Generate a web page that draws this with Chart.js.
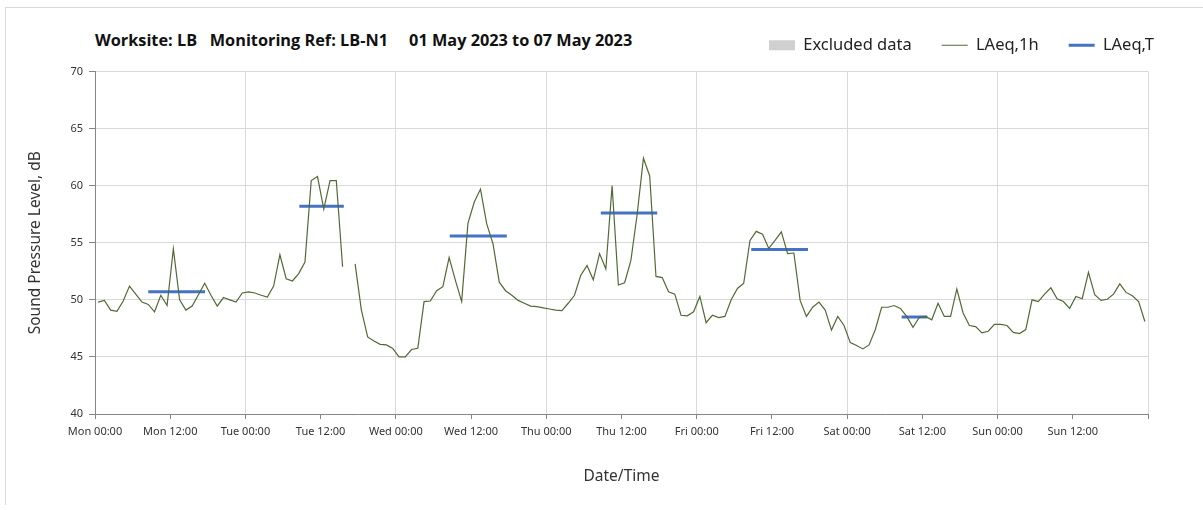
<!DOCTYPE html>
<html>
<head>
<meta charset="utf-8">
<script src="https://cdn.jsdelivr.net/npm/chart.js@4.4.0/dist/chart.umd.min.js"></script>
<style>
  body { margin: 0; background: #fff; }
  .wrap { position: relative; width: 1203px; height: 510px; }
  .frame { position: absolute; left: 5px; top: 7px; right: 0; bottom: 5px;
           border-left: 1px solid #d9d9d9; border-top: 1px solid #d9d9d9; }
  .title { position: absolute; left: 95px; top: 29px; font: bold 16.3px "Open Sans", sans-serif;
           color: #111; white-space: pre; }
  canvas { position: absolute; left: 0; top: 0; }
</style>
</head>
<body>
<div class="wrap">
  <div class="frame"></div>
  <div class="title">Worksite: LB   Monitoring Ref: LB-N1     01 May 2023 to 07 May 2023</div>
  <canvas id="myChart" width="1203" height="510"></canvas>
</div>
<script>
// hourly LAeq,1h per day (dB), 00:00 .. 23:00
const monLevels = [49.8, 49.95, 49.1, 49.0, 49.9, 51.2, 50.5, 49.8, 49.6, 48.95, 50.4, 49.5, 54.45, 50.0, 49.1, 49.45, 50.45, 51.45, 50.4, 49.45, 50.2, 50.0, 49.8, 50.6];
const tueLevels = [50.7, 50.6, 50.4, 50.25, 51.2, 53.95, 51.85, 51.65, 52.3, 53.3, 60.45, 60.8, 57.95, 60.45, 60.45, 52.9, null, 53.15, 49.1, 46.75, 46.4, 46.1, 46.05, 45.75];
const wedLevels = [45.0, 45.0, 45.65, 45.75, 49.85, 49.9, 50.8, 51.15, 53.7, 51.7, 49.85, 56.7, 58.55, 59.7, 56.65, 54.9, 51.55, 50.8, 50.4, 49.95, 49.7, 49.45, 49.4, 49.3];
const thuLevels = [49.2, 49.1, 49.05, 49.7, 50.4, 52.15, 53.0, 51.75, 54.05, 52.7, 60.0, 51.3, 51.5, 53.45, 57.5, 62.4, 60.85, 52.05, 51.95, 50.7, 50.5, 48.65, 48.6, 48.95];
const friLevels = [50.3, 48.0, 48.65, 48.45, 48.55, 50.0, 51.0, 51.45, 55.2, 56.0, 55.75, 54.5, 55.2, 55.95, 54.05, 54.1, 49.95, 48.55, 49.35, 49.8, 49.1, 47.35, 48.55, 47.75];
const satLevels = [46.25, 46.0, 45.7, 46.05, 47.4, 49.35, 49.35, 49.5, 49.25, 48.55, 47.6, 48.45, 48.55, 48.25, 49.7, 48.55, 48.55, 50.95, 48.85, 47.75, 47.65, 47.1, 47.25, 47.85];
const sunLevels = [47.85, 47.75, 47.15, 47.05, 47.4, 50.0, 49.85, 50.5, 51.05, 50.1, 49.85, 49.25, 50.3, 50.1, 52.4, 50.45, 49.95, 50.05, 50.5, 51.4, 50.65, 50.35, 49.85, 48.1];

// LAeq,T periods (hours from Mon 00:00)
const periodStart = [8.5, 32.6, 56.6, 80.7, 104.7, 128.7];
const periodEnd = [17.55, 39.7, 65.7, 89.7, 113.75, 132.8];
const periodLevel = [50.7, 58.2, 55.6, 57.6, 54.4, 48.5];

const dayNames = ['Mon', 'Tue', 'Wed', 'Thu', 'Fri', 'Sat', 'Sun'];
const yTicks = [40, 45, 50, 55, 60, 65, 70];

const hourly = [].concat(monLevels, tueLevels, wedLevels, thuLevels, friLevels, satLevels, sunLevels);
const hourlyPoints = hourly.map((v, i) => ({ x: i + 0.5, y: v }));

const lineGreen = '#4f6b35';
const tBlue = '#4472c4';

let datasets = [{
  label: 'LAeq,1h',
  data: hourlyPoints,
  borderColor: lineGreen,
  borderWidth: 1.2,
  pointRadius: 0,
  spanGaps: false,
  tension: 0
}];
periodLevel.forEach((lvl, k) => {
  datasets.push({
    label: 'LAeq,T',
    data: [{ x: periodStart[k], y: lvl }, { x: periodEnd[k], y: lvl }],
    borderColor: tBlue,
    borderWidth: 3,
    pointRadius: 0
  });
});

const tickFont = { family: '"Noto Sans", sans-serif', size: 11 };
const titleFont = { family: '"Noto Sans", sans-serif', size: 15.5 };

// legend: extra room below it, and pushed to the right edge
const legendTweak = {
  id: 'legendTweak',
  beforeInit(chart) {
    const fit = chart.legend.fit;
    chart.legend.fit = function () {
      fit.call(this);
      this.height += 8;
    };
  },
  afterLayout(chart) {
    chart.legend.left += 36;
    chart.legend.right += 36;
  }
};

new Chart(document.getElementById('myChart').getContext('2d'), {
  type: 'line',
  data: { datasets: datasets },
  plugins: [legendTweak],
  options: {
    responsive: false,
    animation: false,
    layout: { padding: { top: 7, right: 55, left: 0, bottom: 0 } },
    plugins: {
      tooltip: { enabled: false },
      title: { display: false },
      legend: {
        display: true,
        position: 'top',
        align: 'end',
        labels: {
          usePointStyle: true,
          pointStyleWidth: 26,
          boxHeight: 10,
          padding: 30,
          color: '#222',
          font: { family: '"Noto Sans", sans-serif', size: 16.5 },
          generateLabels: () => [
            { text: 'Excluded data', pointStyle: 'rect', fillStyle: '#d0d0d0', strokeStyle: '#d0d0d0', lineWidth: 0, fontColor: '#222' },
            { text: 'LAeq,1h', pointStyle: 'line', fillStyle: lineGreen, strokeStyle: lineGreen, lineWidth: 1, fontColor: '#222' },
            { text: 'LAeq,T', pointStyle: 'line', fillStyle: tBlue, strokeStyle: tBlue, lineWidth: 3, fontColor: '#222' }
          ]
        }
      }
    },
    scales: {
      x: {
        type: 'linear',
        min: 0,
        max: 168,
        afterFit: (scale) => { scale.height = 96; },
        afterBuildTicks: (scale) => {
          let t = [];
          for (let v = 0; v <= 168; v += 12) t.push({ value: v });
          scale.ticks = t;
        },
        ticks: {
          autoSkip: false,
          maxRotation: 0,
          minRotation: 0,
          padding: 6,
          color: '#333',
          font: tickFont,
          callback: (v) => v >= 168 ? '' : dayNames[Math.floor(v / 24)] + ' ' + (v % 24 === 0 ? '00:00' : '12:00')
        },
        grid: {
          color: (ctx) => (ctx.tick && ctx.tick.value % 24 === 0) ? '#d9d9d9' : 'rgba(0,0,0,0)',
          lineWidth: 1,
          tickColor: '#868686',
          tickLength: 5
        },
        border: { color: '#868686', width: 1 },
        title: {
          display: true,
          text: 'Date/Time',
          color: '#333',
          font: titleFont,
          padding: { top: 0, bottom: 24 }
        }
      },
      y: {
        min: 40,
        max: 70,
        afterFit: (scale) => { scale.width = 95; },
        afterBuildTicks: (scale) => { scale.ticks = yTicks.map(v => ({ value: v })); },
        ticks: {
          padding: 6,
          color: '#333',
          font: tickFont
        },
        grid: {
          color: '#d9d9d9',
          lineWidth: 1,
          tickColor: '#868686',
          tickLength: 6
        },
        border: { color: '#868686', width: 1 },
        title: {
          display: true,
          text: 'Sound Pressure Level, dB',
          color: '#333',
          font: titleFont,
          padding: { top: 26, bottom: 0 }
        }
      }
    }
  }
});
</script>
</body>
</html>
